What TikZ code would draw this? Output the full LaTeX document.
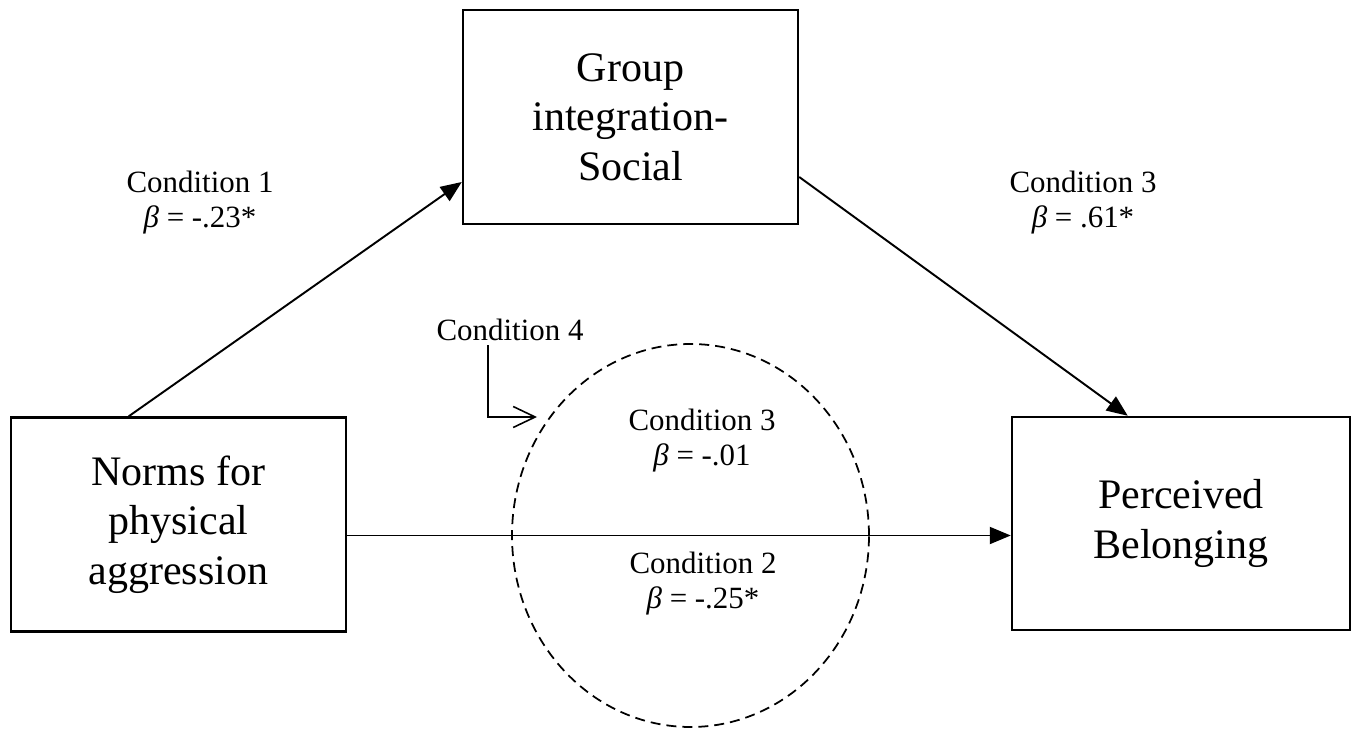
\documentclass[tikz,border=0pt]{standalone}
\usepackage{fontspec}
\setmainfont{Liberation Serif}
\usepackage{tikz}
\usetikzlibrary{positioning}
\usetikzlibrary{shapes,arrows.meta}

\begin{document}
\begin{tikzpicture}[
  varbox/.style={draw, line width=1.4pt, minimum width=6.7cm, minimum height=4.28cm, inner sep=0pt, align=center, font=\fontsize{23.9}{28.2}\selectfont},
  cond/.style={align=center, inner sep=0pt, font=\fontsize{17.6}{19.9}\selectfont},
  path/.style={line width=1.1pt, -{Triangle[length=0.42cm, width=0.34cm]}},
]
\useasboundingbox (0,0) rectangle (27.12,-14.58);
% nodes %

\node[varbox] (norms) at (3.57, -10.49) {Norms for\\physical\\aggression};
\node[varbox] (group) at (12.61, -2.34) {Group\\integration-\\Social};
\node[varbox, minimum width=6.76cm, minimum height=4.26cm] (belong) at (23.62, -10.47) {Perceived\\Belonging};
\node[ellipse, draw, dash pattern=on 0.2cm off 0.12cm, line width=1pt, minimum width=7.14cm, minimum height=7.66cm, inner sep=0pt] (ring) at (13.81, -10.71) {};

\node[cond] (c1) at (4.0, -4.06) {Condition 1\\{\itshape β} = -.23*};
\node[cond] (c3) at (21.66, -4.06) {Condition 3\\{\itshape β} = .61*};
\node[cond] (c4) at (10.2, -6.6) {Condition 4};
\node[cond] (c3b) at (14.04, -8.82) {Condition 3\\{\itshape β} = -.01};
\node[cond] (c2) at (14.06, -11.68) {Condition 2\\{\itshape β} = -.25*};

\coordinate (drop) at (9.76, -6.9);
\coordinate (bend) at (9.76, -8.34);
\coordinate (tip) at (10.74, -8.34);

% edges %
\draw[path] ([xshift=2.38cm]norms.north west) -- ([yshift=-1.3cm]group.west);
\draw[path] ([yshift=-1.2cm]group.east) -- ([xshift=2.34cm]belong.north west);
\draw[path] (norms.east |- ring.center) -- (belong.west |- ring.center);
\draw[line width=0.9pt, -{Straight Barb[length=0.44cm, width=0.42cm]}] (drop) -- (bend) -- (tip);

\end{tikzpicture}
\end{document}
